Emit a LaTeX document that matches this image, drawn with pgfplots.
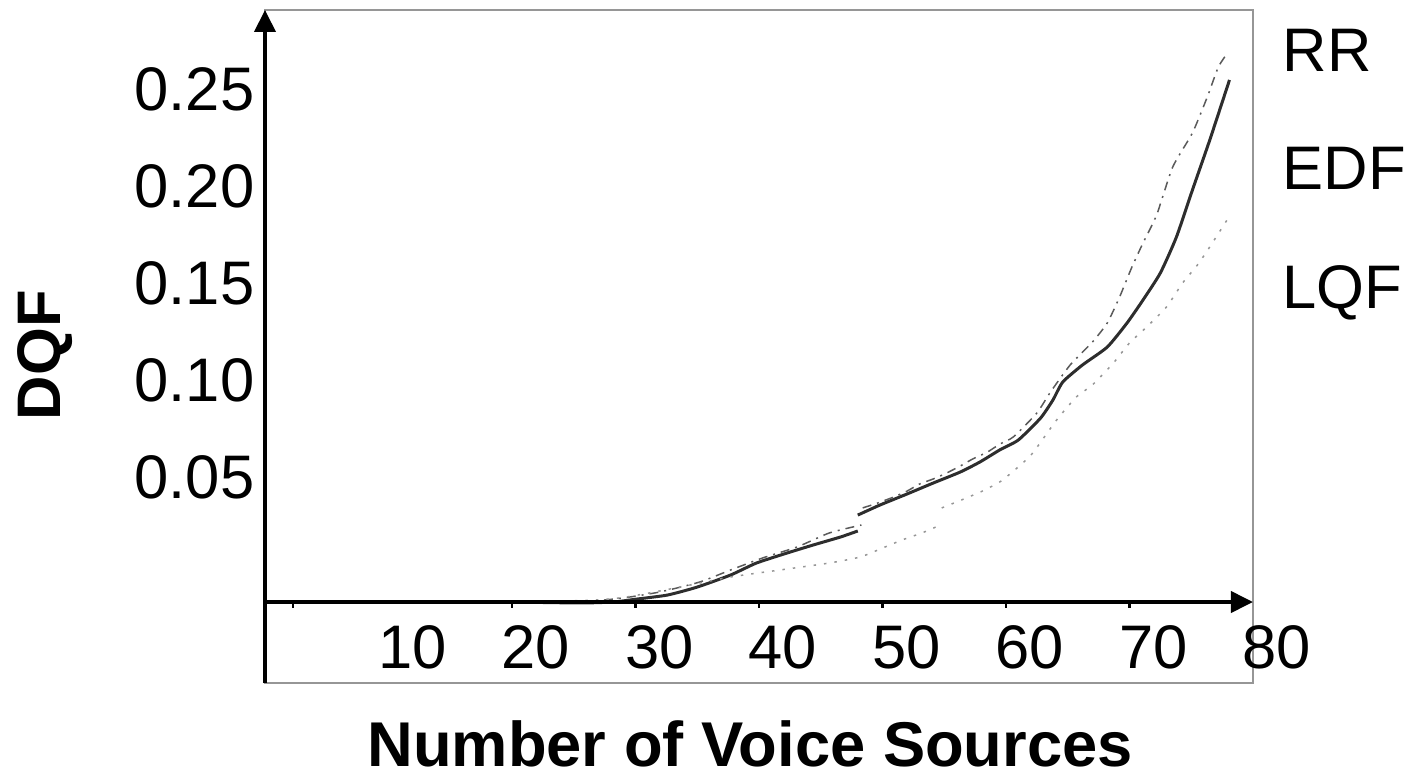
\documentclass[border=0pt]{standalone}
\usepackage{pgfplots}
\pgfplotsset{compat=1.18}
\usepackage{fontspec}
\setmainfont{Liberation Sans}
\usetikzlibrary{arrows.meta}
\definecolor{edfc}{RGB}{45,45,45}
\definecolor{rrc}{RGB}{90,90,90}
\definecolor{lqfc}{RGB}{150,150,150}
\definecolor{framec}{RGB}{150,150,150}
\begin{document}
\begin{tikzpicture}
\useasboundingbox (-2.65cm,-0.96cm) rectangle (11.49cm,6.83cm);
\begin{axis}[
  scale only axis, width=9.88cm, height=6.73cm,
  at={(0,0)}, anchor=south west,
  xmin=0, xmax=80, ymin=-0.04175, ymax=0.30515,
  axis line style={draw=framec, line width=0.23mm},
  xtick={10,20,30,40,50,60,70,80},
  xticklabels={10,20,30,40,50,60,70,80},
  ytick={0.05,0.10,0.15,0.20,0.25},
  yticklabels={0.05,0.10,0.15,0.20,0.25},
  major tick length=0pt, tick style={draw=none},
  /pgf/number format/assume math mode=true,
  xticklabel style={anchor=center, xshift=2.4mm, yshift=3.6mm, font=\fontsize{17.5}{20}\selectfont},
  yticklabel style={anchor=east, inner sep=0pt, xshift=-1mm, yshift=2.8mm, font=\fontsize{17.5}{20}\selectfont},
  xlabel={Number of Voice Sources},
  ylabel={DQF},
  xlabel style={at={(axis description cs:0.491,-0.09)}, anchor=center, font=\fontsize{18}{21}\selectfont\bfseries},
  ylabel style={at={(axis description cs:-0.2227,0.487)}, anchor=center, font=\fontsize{17.5}{20}\selectfont\bfseries},
  clip=false,
  every axis plot/.append style={smooth, tension=0.35},
]
% EDF (solid, with a break near 48)
\addplot[edfc, line width=0.3mm] coordinates {
(20,0) (25.5,-0.0005) (28.2,0) (30.1,0.0015) (32.6,0.0036) (35.0,0.0077)
(37.7,0.0139) (39.8,0.0201) (42.3,0.0253) (44.4,0.0294) (46.6,0.0335) (48.0,0.0366)
};
\addplot[edfc, line width=0.3mm] coordinates {
(48.0,0.0448) (49.8,0.0500) (52.0,0.0557) (54.1,0.0613) (56.3,0.0670) (57.9,0.0722)
(59.5,0.0784) (61.0,0.0835) (62.8,0.0948) (63.8,0.1041) (64.6,0.1134) (66.2,0.1222)
(68.2,0.1314) (69.8,0.1438) (71.1,0.1557) (72.5,0.1696) (73.8,0.1881) (75.1,0.2124)
(76.5,0.2381) (78.1,0.2691)
};
% RR (dash-dot)
\addplot[rrc, line width=0.15mm, dash pattern=on 0.9mm off 0.6mm on 0.2mm off 0.6mm] coordinates {
(20,0) (25.5,0) (29.0,0.0021) (32.0,0.0052) (35.2,0.0103) (37.7,0.0165)
(40.3,0.0227) (43.1,0.0284) (45.7,0.0356) (48.3,0.0397)
};
\addplot[rrc, line width=0.15mm, dash pattern=on 0.9mm off 0.6mm on 0.2mm off 0.6mm] coordinates {
(48.4,0.0485) (49.6,0.0510) (50.9,0.0541) (52.0,0.0572) (53.0,0.0608) (54.1,0.0634)
(55.2,0.0665) (56.3,0.0701) (57.3,0.0737) (58.5,0.0773) (59.5,0.0814) (60.6,0.0851)
(62.5,0.0974) (63.6,0.1082) (65.2,0.1222) (67.0,0.1340) (68.2,0.1438) (69.2,0.1572)
(70.2,0.1727) (71.1,0.1851) (72.2,0.1995) (73.5,0.2242) (75.1,0.2418) (76.3,0.2603)
(77.2,0.2758) (78.0,0.2835)
};
% LQF (dotted)
\addplot[lqfc, line width=0.15mm, dash pattern=on 0.25mm off 0.8mm] coordinates {
(20,0) (26.6,0.0010) (29.3,0.0026) (33.6,0.0077) (37.7,0.0129) (41.7,0.0165)
(45.7,0.0201) (48.2,0.0232) (50.0,0.0278) (51.6,0.0320) (53.2,0.0356) (54.7,0.0397)
};
\addplot[lqfc, line width=0.15mm, dash pattern=on 0.25mm off 0.8mm] coordinates {
(54.8,0.0485) (56.4,0.0526) (58.1,0.0572) (59.5,0.0619) (60.7,0.0680) (62.1,0.0763)
(64.1,0.0938) (65.7,0.1057) (67.0,0.1119) (68.7,0.1232) (70.0,0.1335) (71.4,0.1418)
(73.0,0.1521) (74.3,0.1644) (75.5,0.1737) (76.5,0.1830) (77.9,0.1969)
};
% black axis lines with arrows
\draw[black, line width=0.4mm, -{Triangle[length=2.2mm,width=2.1mm]}] (axis cs:0,-0.04175) -- (axis cs:0,0.30515);
\draw[black, line width=0.4mm, -{Triangle[length=2.2mm,width=2.1mm]}] (axis cs:0,0) -- (axis cs:80,0);
\pgfplotsinvokeforeach{2.27,20,30,40,50,60,70}{
  \draw[black, line width=0.25mm] (axis cs:#1,0) -- (axis cs:#1,-0.0033);
}
% series names
\node[anchor=base west, inner sep=0pt, font=\fontsize{17.5}{20}\selectfont] at (axis cs:82.35,0.2732) {RR};
\node[anchor=base west, inner sep=0pt, font=\fontsize{17.5}{20}\selectfont] at (axis cs:82.35,0.2124) {EDF};
\node[anchor=base west, inner sep=0pt, font=\fontsize{17.5}{20}\selectfont] at (axis cs:82.35,0.1515) {LQF};
\end{axis}
\end{tikzpicture}
\end{document}
